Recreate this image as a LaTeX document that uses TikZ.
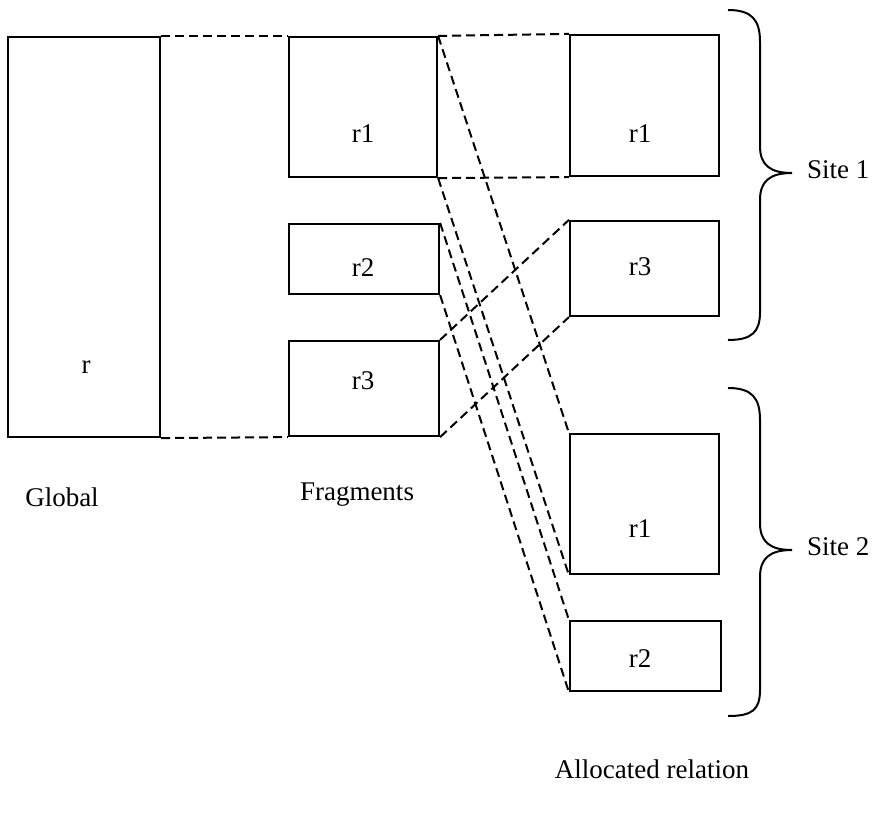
\documentclass[tikz,border=0pt]{standalone}
\usepackage{fontspec}
\setmainfont{Liberation Serif}
\begin{document}
\begin{tikzpicture}[x=1pt,y=-1pt,
  box/.style={draw, line width=2.2pt, inner sep=0pt, minimum width=#1},
  lbl/.style={font=\fontsize{27}{31}\selectfont, inner sep=0pt},
  link/.style={line width=2pt, dash pattern=on 9pt off 5pt},
  brace/.style={line width=2pt}]
\useasboundingbox (0,0) rectangle (878,814);

% global relation
\node[box=152pt, minimum height=400pt] (g) at (84,237) {};
\node[lbl] (gt) at (86,367) {r};

% fragments
\node[box=148pt, minimum height=140pt] (f1) at (363,107) {};
\node[box=150pt, minimum height=70pt] (f2) at (364,259) {};
\node[box=150pt, minimum height=95pt] (f3) at (364,388.5) {};
\node[lbl] (f1t) at (363,134) {r1};
\node[lbl] (f2t) at (363,268) {r2};
\node[lbl] (f3t) at (363,381) {r3};

% allocated fragments, site 1
\node[box=149pt, minimum height=141pt] (a1) at (644.5,105.5) {};
\node[box=149pt, minimum height=95pt] (a3) at (644.5,268.5) {};
\node[lbl] (a1t) at (640,134) {r1};
\node[lbl] (a3t) at (640,267) {r3};

% allocated fragments, site 2
\node[box=149pt, minimum height=140pt] (b1) at (644.5,504) {};
\node[box=151pt, minimum height=70pt] (b2) at (645.5,656) {};
\node[lbl] (b1t) at (640,529) {r1};
\node[lbl] (b2t) at (640,659) {r2};

% captions
\node[lbl] (cg) at (62,497) {Global};
\node[lbl] (cf) at (357,495) {Fragments};
\node[lbl] (ca) at (652,769) {Allocated relation};
\node[lbl, anchor=west] (s1) at (807,170) {Site 1};
\node[lbl, anchor=west] (s2) at (807,547) {Site 2};

% fragmentation
\draw[link] (g.north east) -- (f1.north west);
\draw[link] (g.south east) -- (f3.south west);

% allocation
\draw[link] (f1.north east) -- (a1.north west);
\draw[link] (f1.south east) -- (a1.south west);
\draw[link] (f1.north east) -- (b1.north west);
\draw[link] (f1.south east) -- (b1.south west);
\draw[link] (f2.north east) -- (b2.north west);
\draw[link] (f2.south east) -- (b2.south west);
\draw[link] (f3.north east) -- (a3.north west);
\draw[link] (f3.south east) -- (a3.south west);

% site braces
\coordinate (t1) at (792,173);
\coordinate (t2) at (792,550);
\draw[brace] (728,10) .. controls (752,10) and (760,20) .. (760,42) -- (760,146)
  .. controls (760,165) and (770,173) .. (t1)
  .. controls (770,173) and (760,181) .. (760,200) -- (760,312)
  .. controls (760,332) and (752,340) .. (728,340);
\draw[brace] (728,388) .. controls (752,388) and (760,398) .. (760,420) -- (760,523)
  .. controls (760,542) and (770,550) .. (t2)
  .. controls (770,550) and (760,558) .. (760,577) -- (760,690)
  .. controls (760,710) and (752,716) .. (728,716);
\end{tikzpicture}
\end{document}
